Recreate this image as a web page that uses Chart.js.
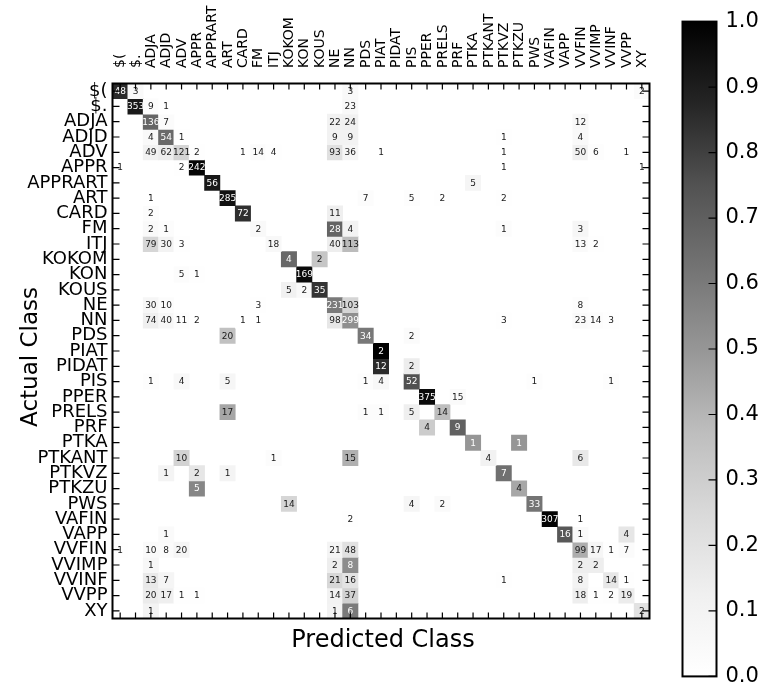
<!DOCTYPE html>
<html>
<head>
<meta charset="utf-8">
<script src="https://cdn.jsdelivr.net/npm/chart.js@4.4.1/dist/chart.umd.min.js"></script>
<style>
  html, body { margin: 0; padding: 0; background: #ffffff; }
  #wrap { position: relative; width: 768px; height: 698px; background: #ffffff; }
  canvas { position: absolute; top: 0; }
</style>
</head>
<body>
<div id="wrap">
  <canvas id="cm" width="768" height="698" style="left:0"></canvas>
  <canvas id="cb" width="96" height="698" style="left:672px"></canvas>
</div>
<script>
// ---- categories (actual = predicted) ----
const classes = ["$(", "$.", "ADJA", "ADJD", "ADV", "APPR", "APPRART", "ART", "CARD", "FM",
  "ITJ", "KOKOM", "KON", "KOUS", "NE", "NN", "PDS", "PIAT", "PIDAT", "PIS", "PPER", "PRELS",
  "PRF", "PTKA", "PTKANT", "PTKVZ", "PTKZU", "PWS", "VAFIN", "VAPP", "VVFIN", "VVIMP",
  "VVINF", "VVPP", "XY"];

// ---- counts per actual class: [predicted class, count] ----
const row_DollarParen = [["$(",48],["$.",3],["NN",3],["XY",2]];
const row_DollarDot = [["$.",353],["ADJA",9],["ADJD",1],["NN",23]];
const row_ADJA = [["ADJA",136],["ADJD",7],["NE",22],["NN",24],["VVFIN",12]];
const row_ADJD = [["ADJA",4],["ADJD",54],["ADV",1],["NE",9],["NN",9],["PTKVZ",1],["VVFIN",4]];
const row_ADV = [["ADJA",49],["ADJD",62],["ADV",121],["APPR",2],["CARD",1],["FM",14],["ITJ",4],["NE",93],["NN",36],["PIAT",1],["PTKVZ",1],["VVFIN",50],["VVIMP",6],["VVPP",1]];
const row_APPR = [["$(",1],["ADV",2],["APPR",242],["PTKVZ",1],["XY",1]];
const row_APPRART = [["APPRART",56],["PTKA",5]];
const row_ART = [["ADJA",1],["ART",285],["PDS",7],["PIS",5],["PRELS",2],["PTKVZ",2]];
const row_CARD = [["ADJA",2],["CARD",72],["NE",11]];
const row_FM = [["ADJA",2],["ADJD",1],["FM",2],["NE",28],["NN",4],["PTKVZ",1],["VVFIN",3]];
const row_ITJ = [["ADJA",79],["ADJD",30],["ADV",3],["ITJ",18],["NE",40],["NN",113],["VVFIN",13],["VVIMP",2]];
const row_KOKOM = [["KOKOM",4],["KOUS",2]];
const row_KON = [["ADV",5],["APPR",1],["KON",169]];
const row_KOUS = [["KOKOM",5],["KON",2],["KOUS",35]];
const row_NE = [["ADJA",30],["ADJD",10],["FM",3],["NE",231],["NN",103],["VVFIN",8]];
const row_NN = [["ADJA",74],["ADJD",40],["ADV",11],["APPR",2],["CARD",1],["FM",1],["NE",98],["NN",299],["PTKVZ",3],["VVFIN",23],["VVIMP",14],["VVINF",3]];
const row_PDS = [["ART",20],["PDS",34],["PIS",2]];
const row_PIAT = [["PIAT",2]];
const row_PIDAT = [["PIAT",12],["PIS",2]];
const row_PIS = [["ADJA",1],["ADV",4],["ART",5],["PDS",1],["PIAT",4],["PIS",52],["PWS",1],["VVINF",1]];
const row_PPER = [["PPER",375],["PRF",15]];
const row_PRELS = [["ART",17],["PDS",1],["PIAT",1],["PIS",5],["PRELS",14]];
const row_PRF = [["PPER",4],["PRF",9]];
const row_PTKA = [["PTKA",1],["PTKZU",1]];
const row_PTKANT = [["ADV",10],["ITJ",1],["NN",15],["PTKANT",4],["VVFIN",6]];
const row_PTKVZ = [["ADJD",1],["APPR",2],["ART",1],["PTKVZ",7]];
const row_PTKZU = [["APPR",5],["PTKZU",4]];
const row_PWS = [["KOKOM",14],["PIS",4],["PRELS",2],["PWS",33]];
const row_VAFIN = [["NN",2],["VAFIN",307],["VVFIN",1]];
const row_VAPP = [["ADJD",1],["VAPP",16],["VVFIN",1],["VVPP",4]];
const row_VVFIN = [["$(",1],["ADJA",10],["ADJD",8],["ADV",20],["NE",21],["NN",48],["VVFIN",99],["VVIMP",17],["VVINF",1],["VVPP",7]];
const row_VVIMP = [["ADJA",1],["NE",2],["NN",8],["VVFIN",2],["VVIMP",2]];
const row_VVINF = [["ADJA",13],["ADJD",7],["NE",21],["NN",16],["PTKVZ",1],["VVFIN",8],["VVINF",14],["VVPP",1]];
const row_VVPP = [["ADJA",20],["ADJD",17],["ADV",1],["APPR",1],["NE",14],["NN",37],["VVFIN",18],["VVIMP",1],["VVINF",2],["VVPP",19]];
const row_XY = [["ADJA",1],["NE",1],["NN",6],["XY",2]];

// colorbar tick labels
const colorbarTicks = [0.0, 0.1, 0.2, 0.3, 0.4, 0.5, 0.6, 0.7, 0.8, 0.9, 1.0];

// ---- build table for the library ----
const rowLists = [row_DollarParen, row_DollarDot, row_ADJA, row_ADJD, row_ADV, row_APPR, row_APPRART,
  row_ART, row_CARD, row_FM, row_ITJ, row_KOKOM, row_KON, row_KOUS, row_NE, row_NN, row_PDS,
  row_PIAT, row_PIDAT, row_PIS, row_PPER, row_PRELS, row_PRF, row_PTKA, row_PTKANT, row_PTKVZ,
  row_PTKZU, row_PWS, row_VAFIN, row_VAPP, row_VVFIN, row_VVIMP, row_VVINF, row_VVPP, row_XY];

const counts = rowLists.map(pairs => {
  const arr = classes.map(() => 0);
  pairs.forEach(([k, v]) => { arr[classes.indexOf(k)] = v; });
  return arr;
});
const norm = counts.map(row => {
  const s = row.reduce((a, b) => a + b, 0);
  return row.map(v => s > 0 ? v / s : 0);
});

// matplotlib "Greys" colormap
const greysStops = [255, 240, 217, 189, 150, 115, 82, 37, 0];
function greyColor(v) {
  v = Math.max(0, Math.min(1, v));
  const p = v * 8;
  const i = Math.min(7, Math.floor(p));
  const f = p - i;
  const g = Math.round(greysStops[i] + (greysStops[i + 1] - greysStops[i]) * f);
  return `rgb(${g},${g},${g})`;
}

const FONT = "DejaVu Sans";
Chart.defaults.font.family = FONT;
Chart.defaults.color = "#000";

const cellPlugin = {
  id: "cellText",
  afterDatasetsDraw(chart) {
    const { ctx, scales: { x, y } } = chart;
    ctx.save();
    ctx.font = `9px "${FONT}"`;
    ctx.textAlign = "center";
    ctx.textBaseline = "middle";
    counts.forEach((row, r) => {
      row.forEach((v, c) => {
        if (v <= 0) return;
        ctx.fillStyle = norm[r][c] >= 0.5 ? "#ffffff" : "#1a1a1a";
        ctx.fillText(String(v), x.getPixelForValue(c), y.getPixelForValue(r) + 0.5);
      });
    });
    ctx.restore();
  },
  afterDraw(chart) {
    const { ctx, chartArea: a, scales: { x, y } } = chart;
    ctx.save();
    ctx.strokeStyle = "#000";
    ctx.lineWidth = 1.2;
    ctx.beginPath();
    classes.forEach((_, i) => {
      const px = x.getPixelForValue(i);
      ctx.moveTo(px, a.top); ctx.lineTo(px, a.top + 6);
      ctx.moveTo(px, a.bottom); ctx.lineTo(px, a.bottom - 6);
      const py = y.getPixelForValue(i);
      ctx.moveTo(a.left, py); ctx.lineTo(a.left + 7, py);
      ctx.moveTo(a.right, py); ctx.lineTo(a.right - 7, py);
    });
    ctx.stroke();
    ctx.lineWidth = 2;
    ctx.strokeRect(a.left, a.top, a.right - a.left, a.bottom - a.top);

    // rotated predicted-class tick labels along the top
    ctx.fillStyle = "#000";
    ctx.font = `14px "${FONT}"`;
    ctx.textAlign = "left";
    ctx.textBaseline = "middle";
    classes.forEach((name, i) => {
      ctx.save();
      ctx.translate(x.getPixelForValue(i) + 0.5, 68);
      ctx.rotate(-Math.PI / 2);
      ctx.fillText(name, 0, 0);
      ctx.restore();
    });

    // axis titles
    ctx.font = `24px "${FONT}"`;
    ctx.textAlign = "center";
    ctx.textBaseline = "alphabetic";
    ctx.fillText("Predicted Class", (a.left + a.right) / 2 + 2, 646.5);
    ctx.translate(37, (a.top + a.bottom) / 2 + 6);
    ctx.rotate(-Math.PI / 2);
    ctx.font = `23px "${FONT}"`;
    ctx.fillText("Actual Class", 0, 0);
    ctx.restore();
  }
};

new Chart(document.getElementById("cm"), {
  type: "bar",
  data: {
    labels: classes,
    datasets: classes.map((name, r) => ({
      label: name,
      xAxisID: "x",
      yAxisID: "y",
      data: classes.map((_, c) => counts[r][c] > 0 ? [r - 0.5, r + 0.5] : null),
      backgroundColor: classes.map((_, c) => greyColor(norm[r][c])),
      borderWidth: 0,
      barPercentage: 1,
      categoryPercentage: 1,
      grouped: false
    }))
  },
  options: {
    responsive: false,
    animation: false,
    events: [],
    layout: { padding: 0 },
    plugins: { legend: { display: false }, tooltip: { enabled: false } },
    scales: {
      x: {
        type: "category",
        position: "top",
        offset: true,
        grid: { display: false, drawTicks: false },
        border: { display: false },
        ticks: { display: false },
        afterFit(s) { s.height = 83.5; }
      },
      y: {
        type: "linear",
        position: "left",
        reverse: true,
        min: -0.5,
        max: 34.5,
        afterBuildTicks(s) { s.ticks = classes.map((_, i) => ({ value: i })); },
        grid: { display: false, drawTicks: false },
        border: { display: false },
        ticks: {
          autoSkip: false, padding: 5, color: "#000",
          font: { family: FONT, size: 18 },
          callback: (v) => classes[v]
        },
        afterFit(s) { s.width = 112.5; }
      },
      xb: {
        type: "category",
        position: "bottom",
        grid: { display: false, drawTicks: false },
        border: { display: false },
        ticks: { display: false },
        afterFit(s) { s.height = 79.5; }
      },
      yr: {
        type: "linear",
        position: "right",
        grid: { display: false, drawTicks: false },
        border: { display: false },
        ticks: { display: false },
        afterFit(s) { s.width = 118.5; }
      }
    }
  },
  plugins: [cellPlugin]
});

// ---- colorbar ----
const cbFrame = {
  id: "cbFrame",
  afterDraw(chart) {
    const { ctx, chartArea: a, scales: { y } } = chart;
    ctx.save();
    ctx.strokeStyle = "#000";
    ctx.lineWidth = 1.2;
    ctx.beginPath();
    colorbarTicks.forEach(v => {
      const py = y.getPixelForValue(v);
      ctx.moveTo(a.right - 8, py); ctx.lineTo(a.right, py);
    });
    ctx.stroke();
    ctx.lineWidth = 2;
    ctx.strokeRect(a.left, a.top, a.right - a.left, a.bottom - a.top);
    ctx.restore();
  }
};

new Chart(document.getElementById("cb"), {
  type: "bar",
  data: {
    labels: [""],
    datasets: [{
      data: [[0, 1]],
      backgroundColor(context) {
        const chart = context.chart;
        const a = chart.chartArea;
        if (!a) return "#888";
        const g = chart.ctx.createLinearGradient(0, a.bottom, 0, a.top);
        greysStops.forEach((s, i) => g.addColorStop(i / 8, `rgb(${s},${s},${s})`));
        return g;
      },
      borderWidth: 0,
      barPercentage: 1,
      categoryPercentage: 1
    }]
  },
  options: {
    responsive: false,
    animation: false,
    events: [],
    layout: { padding: { left: 10.5, top: 16, bottom: 13, right: 0 } },
    plugins: { legend: { display: false }, tooltip: { enabled: false } },
    scales: {
      x: { display: false },
      y: {
        position: "right",
        min: 0,
        max: 1,
        afterBuildTicks(s) { s.ticks = colorbarTicks.map(v => ({ value: v })); },
        grid: { display: false, drawTicks: false },
        border: { display: false },
        ticks: {
          padding: 9, color: "#000", font: { family: FONT, size: 21 },
          callback: (v) => Number(v).toFixed(1)
        },
        afterFit(s) { s.width = 51.5; }
      }
    }
  },
  plugins: [cbFrame]
});
</script>
</body>
</html>
